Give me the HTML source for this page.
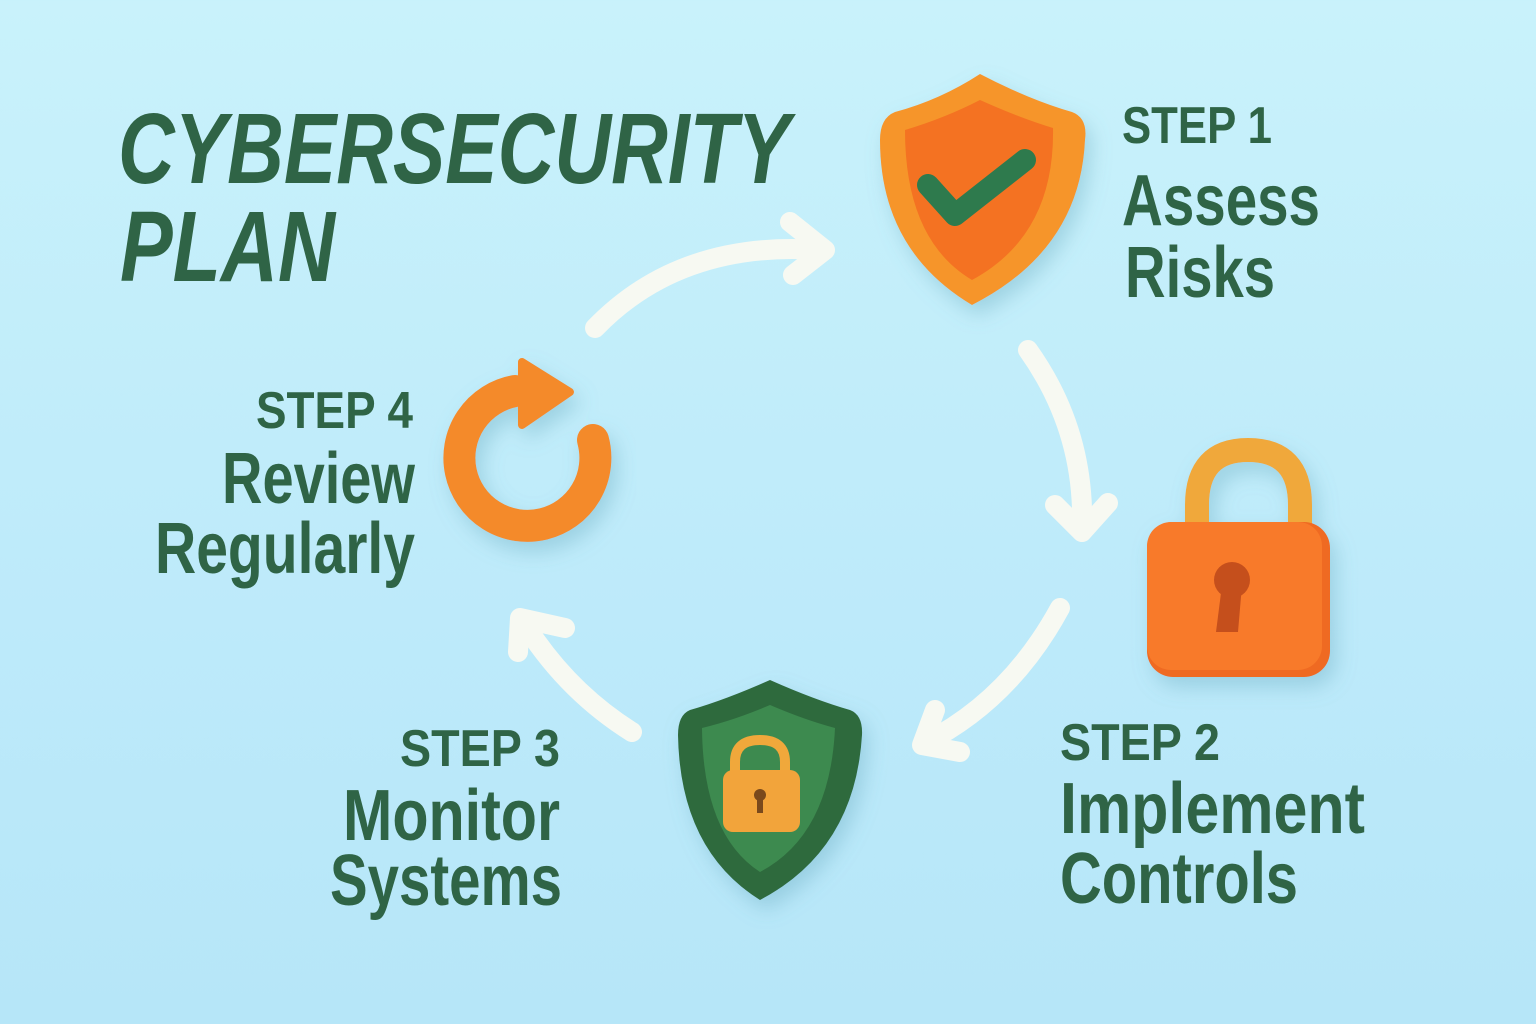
<!DOCTYPE html>
<html><head><meta charset="utf-8"><style>
html,body{margin:0;padding:0;width:1536px;height:1024px;overflow:hidden}
body{background:linear-gradient(180deg,#c9f2fb 0%,#bdeafa 60%,#b6e6f8 100%)}
text{font-family:"Liberation Sans Narrow","Liberation Sans",sans-serif;font-weight:bold;fill:#2f6446}
</style></head><body>
<svg width="1536" height="1024" viewBox="0 0 1536 1024" xmlns="http://www.w3.org/2000/svg">
<defs>
<filter id="sh" x="-30%" y="-30%" width="160%" height="160%"><feDropShadow dx="6" dy="10" stdDeviation="10" flood-color="#5a9fb5" flood-opacity="0.35"/></filter>
</defs>
<text x="118" y="183" font-size="100" font-style="italic" textLength="672" lengthAdjust="spacingAndGlyphs">CYBERSECURITY</text>
<text x="120" y="281" font-size="100" font-style="italic" textLength="215" lengthAdjust="spacingAndGlyphs">PLAN</text>
<g fill="none" stroke="#f7f9f2" stroke-width="20" stroke-linecap="round" stroke-linejoin="round">
<path d="M595 328 Q680 240 820 250"/><path d="M790 222 L825 250 L793 275"/>
<path d="M1028 350 Q1085 430 1082 528"/><path d="M1055 505 L1082 532 L1108 503"/>
<path d="M1060 608 Q1010 700 925 743"/><path d="M935 710 L922 745 L960 752"/>
<path d="M632 732 Q565 690 522 620"/><path d="M518 652 L520 618 L565 628"/>
</g>
<g filter="url(#sh)">
<path d="M980 74 Q1030 100 1072 112 Q1088 118 1085 140 Q1080 250 972 305 Q880 250 880 140 Q880 118 895 112 Q940 100 980 74Z" fill="#f6952a"/>
<path d="M980 100 Q1020 118 1053 128 Q1055 235 972 280 Q905 240 905 130 Q945 118 980 100Z" fill="#f47222"/>
<path d="M928 185 L955 215 L1025 160" fill="none" stroke="#2f7a4e" stroke-width="22" stroke-linecap="round" stroke-linejoin="round"/>
</g>
<text x="1122" y="143" font-size="52" textLength="150" lengthAdjust="spacingAndGlyphs">STEP 1</text>
<text x="1122" y="225" font-size="72" textLength="198" lengthAdjust="spacingAndGlyphs">Assess</text>
<text x="1125" y="297" font-size="72" textLength="150" lengthAdjust="spacingAndGlyphs">Risks</text>
<g filter="url(#sh)">
<path d="M1197 530 L1197 505 Q1197 450 1248 450 Q1300 450 1300 505 L1300 535" fill="none" stroke="#f0a83a" stroke-width="24"/>
<rect x="1147" y="522" width="183" height="155" rx="26" fill="#ef6a22"/>
<rect x="1147" y="522" width="175" height="148" rx="24" fill="#f87a2a"/>
<circle cx="1232" cy="580" r="18" fill="#c5501c"/>
<path d="M1222 585 L1242 585 L1238 632 L1216 632Z" fill="#c5501c"/>
</g>
<text x="1060" y="760" font-size="52" textLength="160" lengthAdjust="spacingAndGlyphs">STEP 2</text>
<text x="1060" y="833" font-size="72" textLength="305" lengthAdjust="spacingAndGlyphs">Implement</text>
<text x="1060" y="903" font-size="72" textLength="238" lengthAdjust="spacingAndGlyphs">Controls</text>
<g filter="url(#sh)">
<path d="M770 680 Q815 700 850 710 Q863 715 862 735 Q855 850 760 900 Q680 850 678 735 Q678 715 690 710 Q725 700 770 680Z" fill="#2e6a3e"/>
<path d="M770 705 Q805 720 835 728 Q830 835 760 872 Q703 835 702 728 Q735 720 770 705Z" fill="#3e8a4f"/>
<path d="M735 775 L735 762 Q735 740 760 740 Q785 740 785 762 L785 775" fill="none" stroke="#f0a83a" stroke-width="10"/>
<rect x="723" y="770" width="77" height="62" rx="10" fill="#f2a43a"/>
<circle cx="760" cy="795" r="6" fill="#7a4a1a"/><rect x="757" y="797" width="6" height="16" fill="#7a4a1a"/>
</g>
<text x="400" y="766" font-size="52" textLength="160" lengthAdjust="spacingAndGlyphs">STEP 3</text>
<text x="343" y="840" font-size="72" textLength="217" lengthAdjust="spacingAndGlyphs">Monitor</text>
<text x="330" y="905" font-size="72" textLength="232" lengthAdjust="spacingAndGlyphs">Systems</text>
<g filter="url(#sh)">
<path d="M593 440 A68 68 0 1 1 515 391" fill="none" stroke="#f48a2a" stroke-width="32" stroke-linecap="round"/>
<path d="M522 362 L570 392 L522 425Z" fill="#f48a2a" stroke="#f48a2a" stroke-width="8" stroke-linejoin="round"/>
</g>
<text x="256" y="428" font-size="52" textLength="157" lengthAdjust="spacingAndGlyphs">STEP 4</text>
<text x="222" y="503" font-size="72" textLength="193" lengthAdjust="spacingAndGlyphs">Review</text>
<text x="155" y="573" font-size="72" textLength="260" lengthAdjust="spacingAndGlyphs">Regularly</text>
</svg>
</body></html>
